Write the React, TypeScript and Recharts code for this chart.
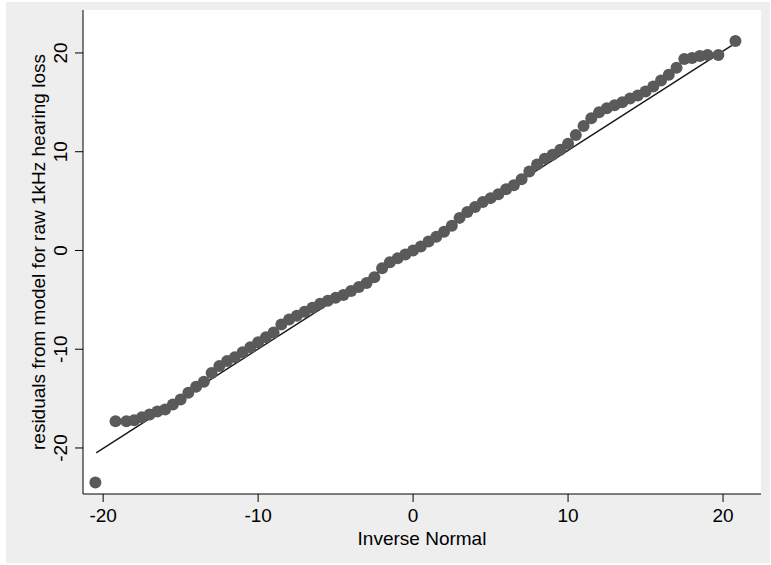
import { CartesianGrid, ComposedChart, Line, Scatter, XAxis, YAxis } from "recharts";

const INV_NORMAL = [
  -20.5, -19.2, -18.5, -18, -17.5, -17, -16.5, -16, -15.5, -15, -14.5, -14, -13.5, -13, -12.5, -12,
  -11.5, -11, -10.5, -10, -9.5, -9, -8.5, -8, -7.5, -7, -6.5, -6, -5.5, -5, -4.5, -4, -3.5, -3,
  -2.5, -2, -1.5, -1, -0.5, 0, 0.5, 1, 1.5, 2, 2.5, 3, 3.5, 4, 4.5, 5, 5.5, 6, 6.5, 7, 7.5, 8,
  8.5, 9, 9.5, 10, 10.5, 11, 11.5, 12, 12.5, 13, 13.5, 14, 14.5, 15, 15.5, 16, 16.5, 17, 17.5, 18,
  18.5, 19, 19.7, 20.8,
];
const RESIDUALS = [
  -23.5, -17.3, -17.3, -17.2, -16.9, -16.6, -16.3, -16.1, -15.6, -15.1, -14.4, -13.8, -13.3, -12.4,
  -11.7, -11.2, -10.8, -10.3, -9.8, -9.3, -8.8, -8.3, -7.5, -7, -6.6, -6.2, -5.8, -5.4, -5.1, -4.8,
  -4.5, -4.1, -3.7, -3.3, -2.7, -1.8, -1.2, -0.8, -0.4, 0, 0.4, 0.9, 1.4, 1.9, 2.5, 3.3, 3.9, 4.4,
  4.9, 5.3, 5.7, 6.2, 6.6, 7.2, 8.0, 8.7, 9.3, 9.7, 10.2, 10.8, 11.7, 12.6, 13.4, 14, 14.4, 14.7, 15,
  15.4, 15.7, 16.1, 16.6, 17.2, 17.8, 18.5, 19.4, 19.5, 19.7, 19.8, 19.8, 21.2,
];
const REF_X = [-20.45, 20.6];
const REF_Y = [-20.5, 20.8];
const TICKS = [-20, -10, 0, 10, 20];

const points = INV_NORMAL.map((x, i) => ({ x, y: RESIDUALS[i] }));
const refLine = REF_X.map((x, i) => ({ x, y: REF_Y[i] }));

const FONT = "'Liberation Sans', Arial, sans-serif";
const FS = 19;

const YTick = (props: any) => {
  const { x, y, payload } = props;
  return (
    <text x={x - 6} y={y} transform={`rotate(-90 ${x - 6} ${y})`} textAnchor="middle" fontSize={FS} fill="#000" fontFamily={FONT}>
      {payload.value}
    </text>
  );
};

const XTick = (props: any) => {
  const { x, y, payload } = props;
  return (
    <text x={x} y={y + 18} textAnchor="middle" fontSize={FS} fill="#000" fontFamily={FONT}>
      {payload.value}
    </text>
  );
};

export default function App() {
  return (
    <div style={{ position: "absolute", left: 0, top: 0, width: 771, height: 565, background: "#fff" }}>
      <div style={{ position: "absolute", left: 6, top: 2, width: 764, height: 561, background: "#eeeeee" }} />
      <div style={{ position: "absolute", left: 0, top: 0 }}>
        <ComposedChart width={771} height={565} margin={{ top: 10, right: 10, left: 0, bottom: 0 }}>
          <CartesianGrid fill="#fff" horizontal={false} vertical={false} />
          <XAxis
            type="number"
            dataKey="x"
            domain={[-21.3, 22.45]}
            ticks={TICKS}
            height={71}
            stroke="#000"
            tickSize={8}
            tick={<XTick />}
            label={{ value: "Inverse Normal", position: "insideBottom", offset: 20, fontSize: FS, fill: "#000", fontFamily: FONT }}
            allowDataOverflow
          />
          <YAxis
            type="number"
            dataKey="y"
            domain={[-24.66, 24.35]}
            ticks={TICKS}
            width={83}
            stroke="#000"
            tickSize={8}
            tick={<YTick />}
            label={{ value: "residuals from  model for  raw 1kHz hearing loss", angle: -90, position: "insideLeft", offset: 38, fontSize: FS, fill: "#000", fontFamily: FONT, style: { textAnchor: "middle", whiteSpace: "pre" } }}
            allowDataOverflow
          />
          <Scatter data={points} fill="#5a5a5a" shape={(p: any) => <circle cx={p.cx} cy={p.cy} r={6} fill="#5a5a5a" />} isAnimationActive={false} />
          <Line data={refLine} dataKey="y" stroke="#1a1a1a" strokeWidth={1.5} dot={false} isAnimationActive={false} />
        </ComposedChart>
      </div>
    </div>
  );
}
